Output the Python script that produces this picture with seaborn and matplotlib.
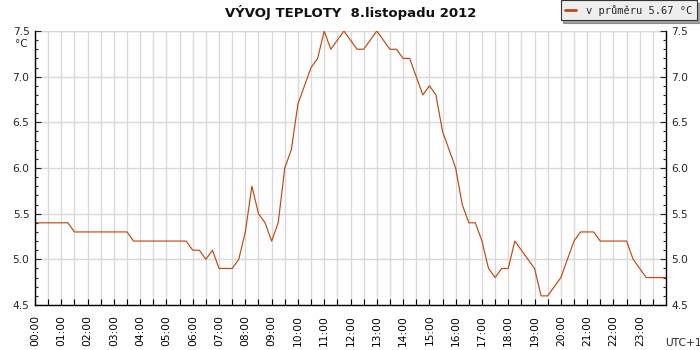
import matplotlib
matplotlib.use("Agg")
import matplotlib.pyplot as plt
import seaborn as sns
import pandas as pd
import numpy as np
from matplotlib.ticker import MultipleLocator, FixedLocator

# ---- data ----
times = [
    "00:00", "00:15", "00:30", "00:45", "01:00", "01:15", "01:30", "01:45",
    "02:00", "02:15", "02:30", "02:45", "03:00", "03:15", "03:30", "03:45",
    "04:00", "04:15", "04:30", "04:45", "05:00", "05:15", "05:30", "05:45",
    "06:00", "06:15", "06:30", "06:45", "07:00", "07:15", "07:30", "07:45",
    "08:00", "08:15", "08:30", "08:45", "09:00", "09:15", "09:30", "09:45",
    "10:00", "10:15", "10:30", "10:45", "11:00", "11:15", "11:30", "11:45",
    "12:00", "12:15", "12:30", "12:45", "13:00", "13:15", "13:30", "13:45",
    "14:00", "14:15", "14:30", "14:45", "15:00", "15:15", "15:30", "15:45",
    "16:00", "16:15", "16:30", "16:45", "17:00", "17:15", "17:30", "17:45",
    "18:00", "18:15", "18:30", "18:45", "19:00", "19:15", "19:30", "19:45",
    "20:00", "20:15", "20:30", "20:45", "21:00", "21:15", "21:30", "21:45",
    "22:00", "22:15", "22:30", "22:45", "23:00", "23:15", "23:30", "23:45",
    "24:00",
]
temps = [
    5.4, 5.4, 5.4, 5.4, 5.4, 5.4, 5.3, 5.3,
    5.3, 5.3, 5.3, 5.3, 5.3, 5.3, 5.3, 5.2,
    5.2, 5.2, 5.2, 5.2, 5.2, 5.2, 5.2, 5.2,
    5.1, 5.1, 5.0, 5.1, 4.9, 4.9, 4.9, 5.0,
    5.3, 5.8, 5.5, 5.4, 5.2, 5.4, 6.0, 6.2,
    6.7, 6.9, 7.1, 7.2, 7.5, 7.3, 7.4, 7.5,
    7.4, 7.3, 7.3, 7.4, 7.5, 7.4, 7.3, 7.3,
    7.2, 7.2, 7.0, 6.8, 6.9, 6.8, 6.4, 6.2,
    6.0, 5.6, 5.4, 5.4, 5.2, 4.9, 4.8, 4.9,
    4.9, 5.2, 5.1, 5.0, 4.9, 4.6, 4.6, 4.7,
    4.8, 5.0, 5.2, 5.3, 5.3, 5.3, 5.2, 5.2,
    5.2, 5.2, 5.2, 5.0, 4.9, 4.8, 4.8, 4.8,
    4.8,
]
hour_labels = ["%02d:00" % h for h in range(24)]
title = "VÝVOJ TEPLOTY  8.listopadu 2012"
legend_label = "v průměru 5.67 °C"
unit_label = "°C"
tz_label = "UTC+1"

line_color = "#c04a10"
grid_color = "#d9d9d9"

sns.set_style("white")
plt.rcParams["font.family"] = ["DejaVu Sans"]

hours = [int(t[:2]) + int(t[3:]) / 60.0 for t in times]
df = pd.DataFrame({"hour": hours, "temp": temps})

fig = plt.figure(figsize=(7, 3.5), dpi=100)
ax = fig.add_axes([35 / 700, 45 / 350, 631 / 700, 274 / 350])

sns.lineplot(data=df, x="hour", y="temp", ax=ax, color=line_color,
             linewidth=0.85, label=legend_label)

ax.set_xlim(0, 24)
ax.set_ylim(4.5, 7.5)
ax.set_xlabel("")
ax.set_ylabel("")

# x ticks: every half hour, labels on hours
xt = np.arange(0, 24, 0.5)
ax.xaxis.set_major_locator(FixedLocator(xt))
ax.set_xticklabels([hour_labels[int(v)] if v == int(v) else "" for v in xt],
                   rotation=90, fontsize=7.7)
ax.yaxis.set_major_locator(MultipleLocator(0.5))
ax.yaxis.set_minor_locator(MultipleLocator(0.1))
ax.yaxis.set_major_formatter(matplotlib.ticker.FormatStrFormatter("%.1f"))

ax.tick_params(axis="x", direction="in", length=4, width=0.8, pad=7,
               bottom=True, top=False, colors="black", labelsize=7.7)
ax.tick_params(axis="y", which="major", direction="in", length=4, width=0.8,
               left=True, right=True, labelleft=True, labelright=True,
               labelsize=7.7, pad=4)
ax.tick_params(axis="y", which="minor", direction="in", length=2, width=0.8,
               left=True, right=True)

ax.grid(True, which="major", color=grid_color, linewidth=1.0)
ax.set_axisbelow(True)
for s in ["left", "right", "bottom"]:
    ax.spines[s].set_visible(True)
    ax.spines[s].set_color("black")
    ax.spines[s].set_linewidth(1.0)
ax.spines["top"].set_visible(False)
ax.axhline(7.5, color=grid_color, linewidth=1.0, zorder=0)

leg = ax.legend(loc="upper right", bbox_to_anchor=(697 / 700, 350 / 350),
                bbox_transform=fig.transFigure, frameon=True, fancybox=False,
                shadow=True, borderpad=0.45, handlelength=1.0,
                handletextpad=1.0, borderaxespad=0,
                prop={"family": "DejaVu Sans Mono", "size": 7.5})
leg.get_frame().set_facecolor("#eeeeee")
leg.get_frame().set_edgecolor("#333333")
leg.get_frame().set_linewidth(0.8)
for l in leg.get_lines():
    l.set_linewidth(2.0)

fig.text(351 / 700, 1 - 12 / 350, title, ha="center", va="center",
         fontsize=9.5, fontweight="bold", color="#111111")
fig.text(21 / 700, 1 - 44 / 350, unit_label, ha="center", va="center",
         fontsize=7.7)
fig.text(683 / 700, 1 - 343 / 350, tz_label, ha="center", va="center",
         fontsize=7.7)

fig.savefig("out.png", dpi=100)
